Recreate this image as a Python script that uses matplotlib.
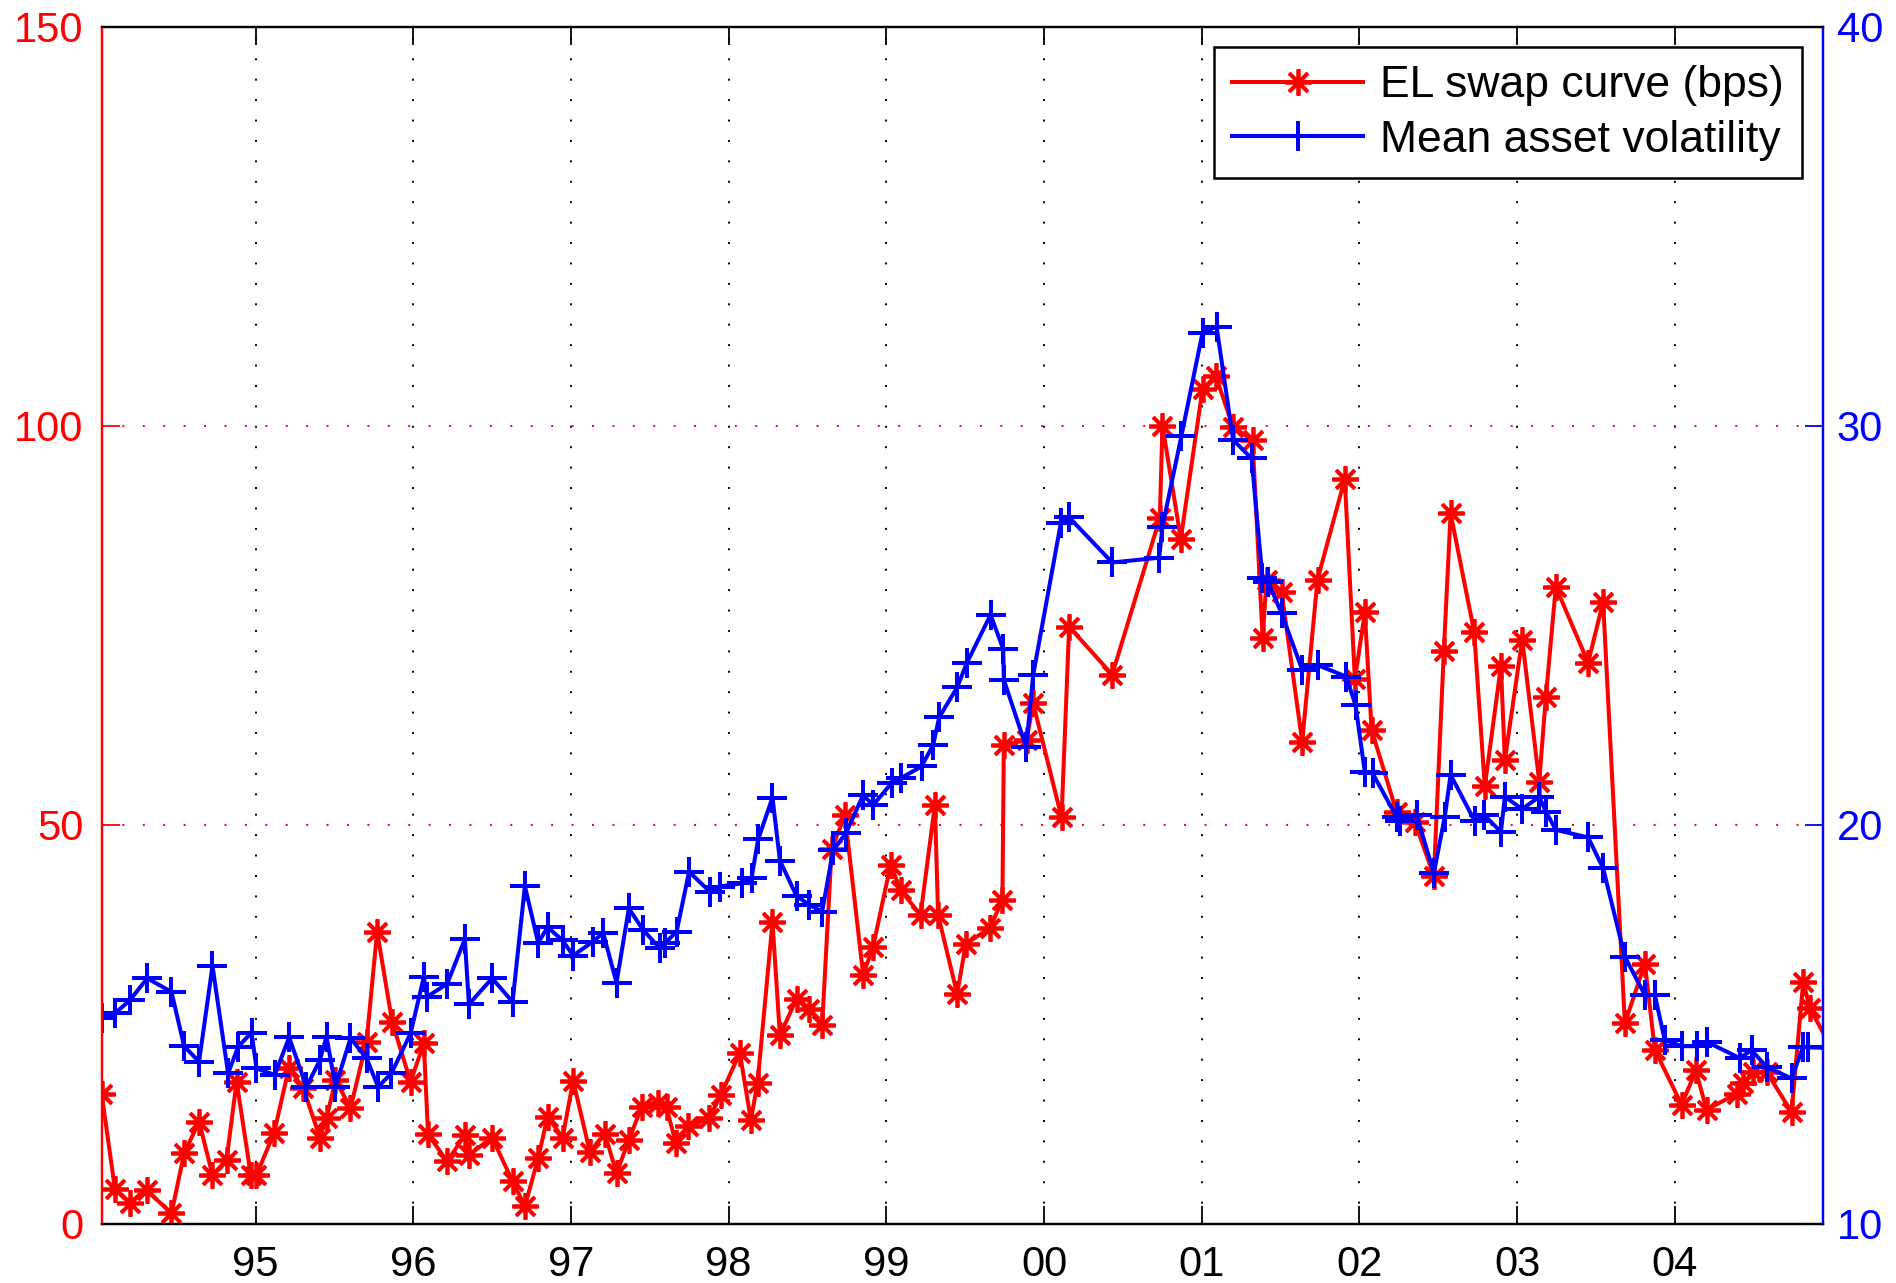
import matplotlib
matplotlib.use("Agg")
import matplotlib.pyplot as plt

# EL swap curve (bps), left axis
el_dates = [1994.024, 1994.108, 1994.203, 1994.309, 1994.467, 1994.547, 1994.642, 1994.727,
            1994.816, 1994.880, 1994.970, 1995.006, 1995.118, 1995.211, 1995.302, 1995.408,
            1995.450, 1995.507, 1995.602, 1995.704, 1995.771, 1995.866, 1995.983, 1996.067,
            1996.094, 1996.215, 1996.327, 1996.353, 1996.500, 1996.630, 1996.708, 1996.792,
            1996.852, 1996.947, 1997.014, 1997.120, 1997.215, 1997.289, 1997.367, 1997.448,
            1997.553, 1997.606, 1997.665, 1997.743, 1997.876, 1997.949, 1998.071, 1998.141,
            1998.183, 1998.278, 1998.325, 1998.431, 1998.511, 1998.593, 1998.653, 1998.737,
            1998.853, 1998.916, 1999.027, 1999.090, 1999.217, 1999.308, 1999.328, 1999.449,
            1999.504, 1999.656, 1999.736, 1999.745, 1999.889, 1999.931, 2000.111, 2000.159,
            2000.432, 2000.734, 2000.751, 2000.867, 2001.005, 2001.089, 2001.199, 2001.322,
            2001.386, 2001.411, 2001.506, 2001.637, 2001.734, 2001.907, 2001.971, 2002.034,
            2002.077, 2002.235, 2002.351, 2002.472, 2002.535, 2002.578, 2002.727, 2002.795,
            2002.897, 2002.922, 2003.032, 2003.140, 2003.182, 2003.245, 2003.450, 2003.545,
            2003.683, 2003.810, 2003.873, 2004.043, 2004.133, 2004.201, 2004.395, 2004.433,
            2004.497, 2004.582, 2004.740, 2004.814, 2004.856, 2005.021]
el_swap = [16.3, 4.4, 2.6, 4.2, 1.3, 8.8, 12.8, 6.1,
           8.0, 17.8, 6.1, 6.1, 11.4, 19.5, 17.0, 10.8,
           13.2, 18.0, 14.5, 22.8, 36.6, 25.3, 17.8, 22.6,
           11.2, 7.8, 11.1, 8.6, 10.8, 5.3, 2.2, 8.2,
           13.4, 10.8, 17.9, 9.0, 11.3, 6.3, 10.5, 14.6,
           15.1, 14.6, 10.1, 12.2, 13.2, 16.1, 21.4, 13.0,
           17.6, 37.8, 23.6, 28.2, 26.9, 24.9, 46.9, 51.2,
           31.2, 34.7, 45.0, 41.8, 38.7, 52.5, 38.7, 28.8,
           35.1, 37.0, 40.6, 60.0, 60.6, 65.2, 50.9, 74.8,
           68.8, 88.4, 100.0, 85.8, 104.6, 106.2, 99.8, 98.2,
           73.4, 80.7, 79.2, 60.4, 80.7, 93.3, 68.2, 76.6,
           61.9, 51.6, 50.3, 43.6, 71.7, 89.0, 74.2, 54.8,
           69.9, 58.1, 73.2, 55.4, 66.0, 79.8, 70.3, 77.9,
           25.1, 32.6, 21.8, 14.9, 19.2, 14.3, 16.3, 17.6,
           19.0, 19.0, 14.0, 30.3, 27.0, 21.0]

# mean asset volatility, right axis
vol_dates = [1994.024, 1994.108, 1994.203, 1994.313, 1994.467, 1994.547, 1994.642, 1994.727,
             1994.826, 1994.890, 1994.975, 1995.006, 1995.122, 1995.213, 1995.323, 1995.408,
             1995.450, 1995.507, 1995.602, 1995.704, 1995.777, 1995.862, 1995.983, 1996.067,
             1996.088, 1996.215, 1996.327, 1996.353, 1996.500, 1996.630, 1996.708, 1996.792,
             1996.852, 1996.947, 1997.014, 1997.140, 1997.204, 1997.289, 1997.367, 1997.458,
             1997.564, 1997.596, 1997.670, 1997.749, 1997.881, 1997.944, 1998.082, 1998.145,
             1998.187, 1998.278, 1998.325, 1998.431, 1998.511, 1998.593, 1998.663, 1998.743,
             1998.853, 1998.916, 1999.033, 1999.090, 1999.223, 1999.297, 1999.335, 1999.449,
             1999.509, 1999.661, 1999.741, 1999.745, 1999.887, 1999.931, 2000.107, 2000.159,
             2000.432, 2000.730, 2000.751, 2000.871, 2001.005, 2001.094, 2001.199, 2001.316,
             2001.385, 2001.421, 2001.506, 2001.637, 2001.734, 2001.916, 2001.975, 2002.034,
             2002.083, 2002.235, 2002.255, 2002.362, 2002.472, 2002.541, 2002.578, 2002.732,
             2002.791, 2002.897, 2002.922, 2003.032, 2003.140, 2003.182, 2003.245, 2003.450,
             2003.545, 2003.683, 2003.810, 2003.873, 2003.936, 2004.043, 2004.138, 2004.201,
             2004.412, 2004.486, 2004.582, 2004.740, 2004.814, 2004.845, 2005.021]
vol_mean = [15.15, 15.27, 15.6, 16.15, 15.81, 14.45, 14.06, 16.46,
            13.77, 14.44, 14.79, 13.89, 13.73, 14.67, 13.43, 14.1,
            14.69, 13.43, 14.65, 14.15, 13.43, 13.77, 14.77, 16.18,
            15.69, 16.01, 17.13, 15.5, 16.15, 15.56, 18.46, 17.04,
            17.43, 17.1, 16.72, 17.07, 17.29, 16.04, 17.9, 17.36,
            16.9, 17.03, 17.32, 18.82, 18.32, 18.45, 18.53, 18.66,
            19.63, 20.68, 19.1, 18.21, 17.99, 17.82, 19.37, 19.78,
            20.74, 20.49, 21.04, 21.16, 21.46, 22.0, 22.69, 23.44,
            24.04, 25.26, 24.4, 23.63, 21.94, 23.75, 27.57, 27.7,
            26.57, 26.69, 27.47, 29.74, 32.33, 32.48, 29.64, 29.18,
            26.18, 26.08, 25.3, 23.88, 24.0, 23.71, 23.0, 21.32,
            21.29, 20.2, 20.08, 20.24, 18.79, 20.2, 21.25, 20.08,
            20.24, 19.82, 20.7, 20.39, 20.7, 20.33, 19.87, 19.68,
            18.91, 16.69, 15.73, 15.73, 14.6, 14.45, 14.45, 14.56,
            14.15, 14.35, 13.93, 13.64, 14.44, 14.42, 14.4]

year_ticks = list(range(1995, 2005))
year_labels = ["95", "96", "97", "98", "99", "00", "01", "02", "03", "04"]
left_ticks = [0, 50, 100, 150]
right_ticks = [10, 20, 30, 40]

plt.rcParams["font.family"] = ["Liberation Sans", "DejaVu Sans"]
plt.rcParams["font.size"] = 30

fig = plt.figure(figsize=(18.96, 12.83), dpi=100)
ax1 = fig.add_axes([0.0536, 0.0462, 0.9077, 0.9331])
ax2 = ax1.twinx()

asterisk = (8, 2, 0)
l1, = ax1.plot(el_dates, el_swap, color="red", lw=2.9, marker=asterisk,
               markersize=19, markeredgewidth=2.7, label="EL swap curve (bps)")
l2, = ax2.plot(vol_dates, vol_mean, color="blue", lw=2.9, marker="+",
               markersize=21, markeredgewidth=2.9, label="Mean asset volatility")

ax1.set_xlim(1994.024, 2004.937)
ax1.set_ylim(0, 150)
ax2.set_ylim(10, 40)

ax1.set_xticks(year_ticks)
ax1.set_xticklabels(year_labels)
ax1.set_yticks(left_ticks)
ax2.set_yticks(right_ticks)

ax1.tick_params(axis="x", direction="in", length=13, width=1.3, top=True,
                colors="black", pad=15, labelsize=30)
ax1.tick_params(axis="y", direction="in", length=13, width=1.3, colors="red",
                pad=13, labelsize=30)
ax2.tick_params(axis="y", direction="in", length=13, width=1.3, colors="blue",
                pad=10, labelsize=30)

# dotted grid: black for the years, red for the left scale
ax1.xaxis.grid(True, color="black", linestyle=(0, (1, 9.5)), lw=1.4)
ax1.yaxis.grid(True, color="red", linestyle=(0, (1, 9.5)), lw=1.4)

for ax in (ax1, ax2):
    ax.spines["top"].set_color("black")
    ax.spines["bottom"].set_color("black")
    for s in ax.spines.values():
        s.set_linewidth(1.6)
ax1.spines["left"].set_color("red")
ax2.spines["left"].set_color("red")
ax2.spines["right"].set_color("blue")

leg = ax2.legend([l1, l2], [l1.get_label(), l2.get_label()], loc="upper right",
                 fontsize=32, numpoints=1, handlelength=2.95, fancybox=False,
                 framealpha=1, edgecolor="black", borderaxespad=0.47,
                 borderpad=0.4, labelspacing=0.3, handletextpad=0.38)
leg.get_frame().set_linewidth(1.8)

fig.savefig("out.png", dpi=100)
